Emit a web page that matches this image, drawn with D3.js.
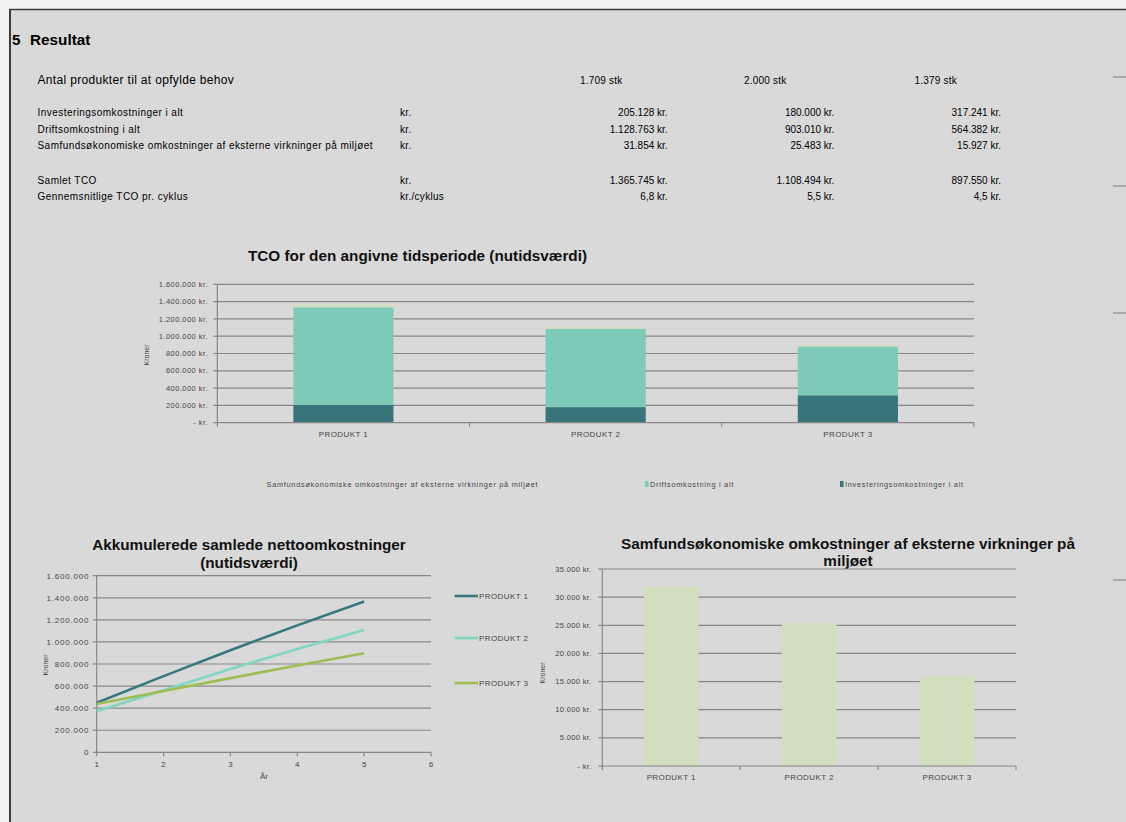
<!DOCTYPE html>
<html>
<head>
<meta charset="utf-8">
<script src="https://cdn.jsdelivr.net/npm/d3@7"></script>
<style>
  html, body { margin: 0; padding: 0; background: #f0f0f0; }
  svg { display: block; font-family: "Liberation Sans", Arial, sans-serif; }
</style>
</head>
<body>
<svg id="chart" width="1126" height="822"></svg>
<script>
// ---------- DATA ----------
const products = ["PRODUKT 1", "PRODUKT 2", "PRODUKT 3"];
const antal = [1709, 2000, 1379];
const investering = [205128, 180000, 317241];
const drift = [1128763, 903010, 564382];
const samfund = [31854, 25483, 15927];
const samletTCO = [1365745, 1108494, 897550];
const tcoPerCyklus = [6.8, 5.5, 4.5];

const rowLabels = [
  "Investeringsomkostninger i alt",
  "Driftsomkostning i alt",
  "Samfundsøkonomiske omkostninger af eksterne virkninger på miljøet",
  "Samlet TCO",
  "Gennemsnitlige TCO pr. cyklus"
];
const rowUnits = ["kr.", "kr.", "kr.", "kr.", "kr./cyklus"];

const seriesNames = [
  "Samfundsøkonomiske omkostninger af eksterne virkninger på miljøet",
  "Driftsomkostning i alt",
  "Investeringsomkostninger i alt"
];

const years = [1, 2, 3, 4, 5];
const akkP1 = [449000, 690000, 925000, 1150000, 1365745];
const akkP2 = [372000, 563000, 755000, 935000, 1108494];
const akkP3 = [437000, 556000, 672000, 786000, 897550];

const tcoTicks = [0, 200000, 400000, 600000, 800000, 1000000, 1200000, 1400000, 1600000];
const akkTicks = [0, 200000, 400000, 600000, 800000, 1000000, 1200000, 1400000, 1600000];
const yearTicks = [1, 2, 3, 4, 5, 6];
const samfTicks = [0, 5000, 10000, 15000, 20000, 25000, 30000, 35000];

// ---------- STYLE ----------
const C_INV = "#37757b", C_DRIFT = "#7ecab8", C_SAMF = "#d2dfbe";
const C_L1 = "#37787f", C_L2 = "#80d6c3", C_L3 = "#9dbe52";
const GRID = "#878787", TXT = "#454545";
const TITLE_FS = 15.3;

const dk = d3.formatLocale({decimal: ",", thousands: ".", grouping: [3], currency: ["", ""]});
const fInt = dk.format(",d");
const fDec = dk.format(",.1f");
const kr = v => v === 0 ? "-  kr." : fInt(v) + " kr.";

const svg = d3.select("#chart");

// ---------- PAGE ----------
svg.append("rect").attr("x", 0).attr("y", 0).attr("width", 1126).attr("height", 822).attr("fill", "#f0f0f0");
svg.append("rect").attr("x", 10).attr("y", 9).attr("width", 1116).attr("height", 813).attr("fill", "#d9d9d9");
svg.append("line").attr("x1", 9).attr("x2", 1126).attr("y1", 9.5).attr("y2", 9.5).attr("stroke", "#3c3c3c").attr("stroke-width", 1.5);
svg.append("line").attr("x1", 10).attr("x2", 10).attr("y1", 9).attr("y2", 822).attr("stroke", "#3c3c3c").attr("stroke-width", 2);
[77, 186, 313, 580].forEach(y => {
  svg.append("line").attr("x1", 1113).attr("x2", 1126).attr("y1", y).attr("y2", y).attr("stroke", "#9a9a9a").attr("stroke-width", 1.5);
});

// ---------- TABLE ----------
svg.append("text").attr("x", 12).attr("y", 44.5).attr("font-size", 15.3).attr("font-weight", "bold").text("5");
svg.append("text").attr("x", 30).attr("y", 44.5).attr("font-size", 15.3).attr("font-weight", "bold").text("Resultat");
svg.append("text").attr("x", 37.5).attr("y", 84).attr("font-size", 12).attr("letter-spacing", 0.33)
  .text("Antal produkter til at opfylde behov");

const colLeft = [580, 744, 914.5];
const colRight = [667.6, 834.4, 1001];
antal.forEach((v, i) => {
  svg.append("text").attr("x", colLeft[i]).attr("y", 84).attr("font-size", 10).attr("letter-spacing", 0.2).text(fInt(v) + " stk");
});

const rowY = [115.5, 132.5, 149, 184, 200];
const rowValues = [investering, drift, samfund, samletTCO, tcoPerCyklus];
rowLabels.forEach((lab, r) => {
  svg.append("text").attr("x", 37.5).attr("y", rowY[r]).attr("font-size", 10).attr("letter-spacing", 0.45).text(lab);
  svg.append("text").attr("x", 400).attr("y", rowY[r]).attr("font-size", 10).attr("letter-spacing", 0.3).text(rowUnits[r]);
  rowValues[r].forEach((v, i) => {
    const s = r === 4 ? fDec(v) + " kr." : fInt(v) + " kr.";
    svg.append("text").attr("x", colRight[i]).attr("y", rowY[r]).attr("font-size", 10).attr("text-anchor", "end").text(s);
  });
});

// ---------- CHART 1: stacked TCO ----------
{
  const x0 = 217.3, x1 = 974, yTop = 284.3, yBot = 422.7;
  const x = d3.scaleBand().domain(products).range([x0, x1]).padding(0);
  const y = d3.scaleLinear().domain([0, 1600000]).range([yBot, yTop]);
  const g = svg.append("g");

  g.append("text").attr("x", 417.5).attr("y", 261).attr("text-anchor", "middle")
    .attr("font-size", TITLE_FS).attr("font-weight", "bold").attr("fill", "#111")
    .text("TCO for den angivne tidsperiode (nutidsværdi)");

  tcoTicks.forEach(t => {
    if (t > 0) g.append("line").attr("x1", x0).attr("x2", x1).attr("y1", y(t)).attr("y2", y(t)).attr("stroke", GRID).attr("stroke-width", 1.2);
    g.append("line").attr("x1", x0 - 4).attr("x2", x0).attr("y1", y(t)).attr("y2", y(t)).attr("stroke", GRID).attr("stroke-width", 1.2);
    g.append("text").attr("x", 208).attr("y", y(t)).attr("dy", "0.35em").attr("text-anchor", "end")
      .attr("font-size", 7.5).attr("letter-spacing", 0.45).attr("fill", TXT).text(kr(t));
  });

  const stackData = products.map((p, i) => ({p, inv: investering[i], drift: drift[i], samf: samfund[i]}));
  const stack = d3.stack().keys(["inv", "drift", "samf"])(stackData);
  const colors = {inv: C_INV, drift: C_DRIFT, samf: C_SAMF};
  const bw = x.bandwidth() * 0.397;
  stack.forEach(layer => {
    g.selectAll(null).data(layer).enter().append("rect")
      .attr("x", d => x(d.data.p) + x.bandwidth() / 2 - bw / 2)
      .attr("width", bw)
      .attr("y", d => y(d[1]))
      .attr("height", d => y(d[0]) - y(d[1]))
      .attr("fill", colors[layer.key]);
  });

  g.append("line").attr("x1", x0).attr("x2", x0).attr("y1", yTop).attr("y2", yBot).attr("stroke", GRID).attr("stroke-width", 1.2);
  g.append("line").attr("x1", x0).attr("x2", x1).attr("y1", yBot).attr("y2", yBot).attr("stroke", GRID).attr("stroke-width", 1.2);
  [x0, ...products.map(p => x(p) + x.bandwidth())].forEach(xx => {
    g.append("line").attr("x1", xx).attr("x2", xx).attr("y1", yBot).attr("y2", yBot + 4).attr("stroke", GRID).attr("stroke-width", 1.2);
  });
  products.forEach(p => {
    g.append("text").attr("x", x(p) + x.bandwidth() / 2).attr("y", 437).attr("text-anchor", "middle")
      .attr("font-size", 8).attr("letter-spacing", 0.4).attr("fill", TXT).text(p);
  });
  g.append("text").attr("transform", "translate(149,355) rotate(-90)").attr("text-anchor", "middle")
    .attr("font-size", 7).attr("fill", TXT).text("Kroner");

  // legend
  const legX = [261.5, 645, 840];
  const legC = [C_SAMF, C_DRIFT, C_INV];
  seriesNames.forEach((n, i) => {
    g.append("rect").attr("x", legX[i]).attr("y", 481).attr("width", 3.5).attr("height", 6).attr("fill", legC[i]);
    g.append("text").attr("x", legX[i] + 5).attr("y", 484).attr("dy", "0.35em")
      .attr("font-size", 7.4).attr("letter-spacing", 0.7).attr("fill", TXT).text(n);
  });
}

// ---------- CHART 2: accumulated lines ----------
{
  const x0 = 96.7, x1 = 431, yTop = 575.7, yBot = 752.3;
  const x = d3.scaleLinear().domain([1, 6]).range([x0, x1]);
  const y = d3.scaleLinear().domain([0, 1600000]).range([yBot, yTop]);
  const g = svg.append("g");

  g.append("text").attr("x", 249).attr("y", 550).attr("text-anchor", "middle")
    .attr("font-size", TITLE_FS).attr("font-weight", "bold").attr("fill", "#111").text("Akkumulerede samlede nettoomkostninger");
  g.append("text").attr("x", 249).attr("y", 567.5).attr("text-anchor", "middle")
    .attr("font-size", TITLE_FS).attr("font-weight", "bold").attr("fill", "#111").text("(nutidsværdi)");

  akkTicks.forEach(t => {
    if (t > 0) g.append("line").attr("x1", x0).attr("x2", x1).attr("y1", y(t)).attr("y2", y(t)).attr("stroke", GRID).attr("stroke-width", 1.2);
    g.append("line").attr("x1", x0 - 4).attr("x2", x0).attr("y1", y(t)).attr("y2", y(t)).attr("stroke", GRID).attr("stroke-width", 1.2);
    g.append("text").attr("x", 89.3).attr("y", y(t)).attr("dy", "0.35em").attr("text-anchor", "end")
      .attr("font-size", 8).attr("letter-spacing", 0.8).attr("fill", TXT).text(fInt(t));
  });
  g.append("line").attr("x1", x0).attr("x2", x0).attr("y1", yTop).attr("y2", yBot).attr("stroke", GRID).attr("stroke-width", 1.2);
  g.append("line").attr("x1", x0).attr("x2", x1).attr("y1", yBot).attr("y2", yBot).attr("stroke", GRID).attr("stroke-width", 1.2);
  yearTicks.forEach(t => {
    g.append("line").attr("x1", x(t)).attr("x2", x(t)).attr("y1", yBot).attr("y2", yBot + 4).attr("stroke", GRID).attr("stroke-width", 1.2);
    g.append("text").attr("x", x(t)).attr("y", 767).attr("text-anchor", "middle")
      .attr("font-size", 8).attr("fill", TXT).text(t);
  });
  g.append("text").attr("x", 264).attr("y", 779).attr("text-anchor", "middle").attr("font-size", 8).attr("fill", TXT).text("År");
  g.append("text").attr("transform", "translate(48,665) rotate(-90)").attr("text-anchor", "middle")
    .attr("font-size", 7).attr("fill", TXT).text("Kroner");

  const line = d3.line().x((d, i) => x(years[i])).y(d => y(d));
  const series = [akkP1, akkP2, akkP3];
  const lc = [C_L1, C_L2, C_L3];
  series.forEach((s, i) => {
    g.append("path").datum(s).attr("d", line).attr("fill", "none").attr("stroke", lc[i]).attr("stroke-width", 2.6);
  });
  const legY = [596, 638, 683];
  products.forEach((p, i) => {
    g.append("line").attr("x1", 454.5).attr("x2", 478).attr("y1", legY[i]).attr("y2", legY[i]).attr("stroke", lc[i]).attr("stroke-width", 2.6);
    g.append("text").attr("x", 479).attr("y", legY[i]).attr("dy", "0.35em").attr("font-size", 8)
      .attr("letter-spacing", 0.4).attr("fill", TXT).text(p);
  });
}

// ---------- CHART 3: samfund bars ----------
{
  const x0 = 602.3, x1 = 1016, yTop = 569, yBot = 766;
  const x = d3.scaleBand().domain(products).range([x0, x1]).padding(0);
  const y = d3.scaleLinear().domain([0, 35000]).range([yBot, yTop]);
  const g = svg.append("g");

  g.append("text").attr("x", 848).attr("y", 548.5).attr("text-anchor", "middle")
    .attr("font-size", TITLE_FS).attr("font-weight", "bold").attr("fill", "#111").text("Samfundsøkonomiske omkostninger af eksterne virkninger på");
  g.append("text").attr("x", 848).attr("y", 566).attr("text-anchor", "middle")
    .attr("font-size", TITLE_FS).attr("font-weight", "bold").attr("fill", "#111").text("miljøet");

  samfTicks.forEach(t => {
    if (t > 0) g.append("line").attr("x1", x0).attr("x2", x1).attr("y1", y(t)).attr("y2", y(t)).attr("stroke", GRID).attr("stroke-width", 1.2);
    g.append("line").attr("x1", x0 - 4).attr("x2", x0).attr("y1", y(t)).attr("y2", y(t)).attr("stroke", GRID).attr("stroke-width", 1.2);
    g.append("text").attr("x", 591.7).attr("y", y(t)).attr("dy", "0.35em").attr("text-anchor", "end")
      .attr("font-size", 7.5).attr("letter-spacing", 0.35).attr("fill", TXT).text(kr(t));
  });

  const bw = x.bandwidth() * 0.395;
  g.selectAll(null).data(samfund).enter().append("rect")
    .attr("x", (d, i) => x(products[i]) + x.bandwidth() / 2 - bw / 2)
    .attr("width", bw)
    .attr("y", d => y(d))
    .attr("height", d => yBot - y(d))
    .attr("fill", C_SAMF);

  g.append("line").attr("x1", x0).attr("x2", x0).attr("y1", yTop).attr("y2", yBot).attr("stroke", GRID).attr("stroke-width", 1.2);
  g.append("line").attr("x1", x0).attr("x2", x1).attr("y1", yBot).attr("y2", yBot).attr("stroke", GRID).attr("stroke-width", 1.2);
  [x0, ...products.map(p => x(p) + x.bandwidth())].forEach(xx => {
    g.append("line").attr("x1", xx).attr("x2", xx).attr("y1", yBot).attr("y2", yBot + 4).attr("stroke", GRID).attr("stroke-width", 1.2);
  });
  products.forEach(p => {
    g.append("text").attr("x", x(p) + x.bandwidth() / 2).attr("y", 780).attr("text-anchor", "middle")
      .attr("font-size", 8).attr("letter-spacing", 0.4).attr("fill", TXT).text(p);
  });
  g.append("text").attr("transform", "translate(545,673) rotate(-90)").attr("text-anchor", "middle")
    .attr("font-size", 7).attr("fill", TXT).text("Kroner");
}
</script>
</body>
</html>
